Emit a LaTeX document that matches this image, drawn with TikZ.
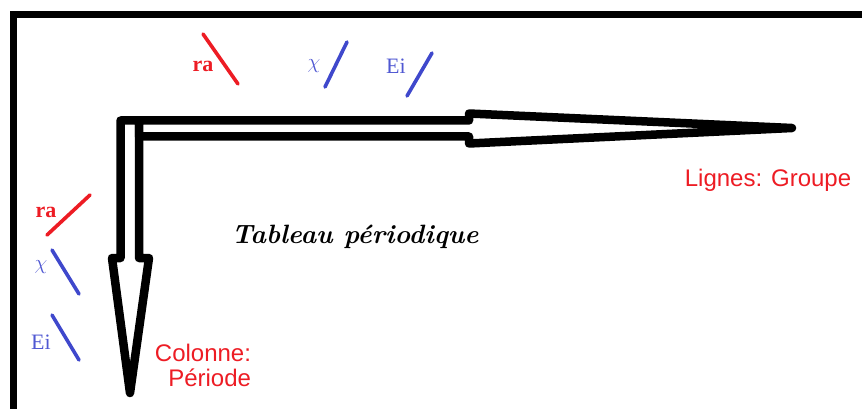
\documentclass[tikz,border=0pt]{standalone}
\usepackage{fontspec}
\usepackage{amsmath}
\usetikzlibrary{positioning}
\newfontfamily\labelsans{Liberation Sans}
\newfontfamily\labelserif{Liberation Serif}
\definecolor{paintred}{RGB}{237,28,36}
\definecolor{paintblue}{RGB}{63,72,204}
\definecolor{textblue}{RGB}{80,88,210}
\tikzset{
  frame/.style={line width=7pt, draw=black},
  bigarrow/.style={line width=8.5pt, draw=black, fill=white, line join=round},
  tick/.style={line width=3.6pt, line cap=round},
  proplabel/.style={font=\labelserif\fontsize{22}{24}\selectfont, inner sep=0pt},
  dirlabel/.style={font=\labelsans\fontsize{24}{25}\selectfont, text=paintred, inner sep=0pt},
  titlelabel/.style={font=\bfseries\itshape\fontsize{26.5}{28}\selectfont, inner sep=0pt}
}
\begin{document}
\begin{tikzpicture}[x=1pt, y=-1pt]
  \useasboundingbox (0,0) rectangle (862,409);
  % cadre
  \draw[frame] (13.5,409) -- (13.5,14.5) -- (862,14.5);
  % fleche verticale (colonne)
  \draw[bigarrow] (120.5,120.5) -- (139,120.5) -- (139,258) -- (149,258)
    -- (130,393) -- (112,258) -- (120.5,258) -- cycle;
  % fleche horizontale (ligne)
  \draw[bigarrow] (139,120.5) -- (469,120.5) -- (469,113.5) -- (792,128)
    -- (469,143.5) -- (469,136.5) -- (139,136.5) -- cycle;
  % proprietes le long de la ligne
  \node[proplabel, text=paintred, font=\labelserif\bfseries\fontsize{22}{24}\selectfont] (ratop) at (203,66) {ra};
  \node[proplabel, text=textblue] (chitop) at (314,66) {$\chi$};
  \node[proplabel, text=textblue] (eitop) at (396,66) {Ei};
  \draw[tick, paintred] (203,34) -- (238,84);
  \draw[tick, paintblue] (347,42) -- (325,87);
  \draw[tick, paintblue] (432,53) -- (407,96);
  % proprietes le long de la colonne
  \node[proplabel, text=paintred, font=\labelserif\bfseries\fontsize{22}{24}\selectfont] (raleft) at (46,212) {ra};
  \node[proplabel, text=textblue] (chileft) at (41,267) {$\chi$};
  \node[proplabel, text=textblue] (eileft) at (41,342) {Ei};
  \draw[tick, paintred] (90,195) -- (47,235);
  \draw[tick, paintblue] (52,250) -- (79,294);
  \draw[tick, paintblue] (52,315) -- (79,360);
  % legendes
  \node[dirlabel, align=right] (colonne) at (203,365) {Colonne:\\Période};
  \node[dirlabel] (lignes) at (768,180) {Lignes: Groupe};
  \node[titlelabel] (tableau) at (355,237) {Tableau périodique};
\end{tikzpicture}
\end{document}
